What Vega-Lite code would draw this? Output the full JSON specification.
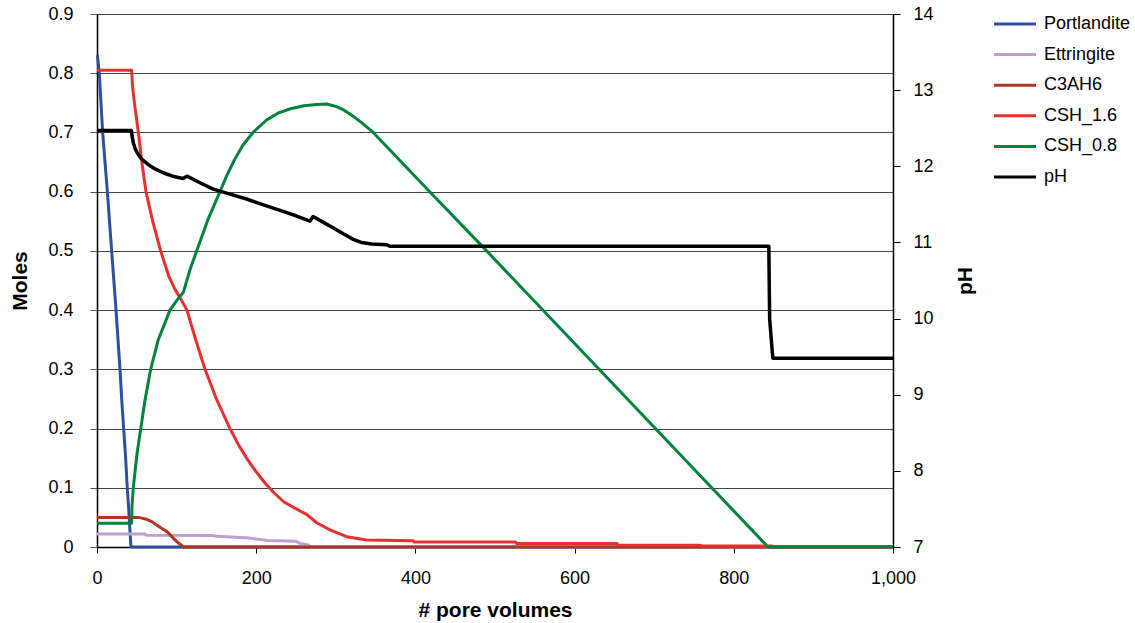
{
  "$schema": "https://vega.github.io/schema/vega-lite/v6.json",
  "width": 796,
  "height": 533,
  "autosize": {"type": "none"},
  "padding": {"left": 97, "top": 14, "right": 242, "bottom": 76},
  "config": {"font": "Liberation Sans", "view": {"stroke": null}, "background": "white"},
  "datasets": {
    "moles": [
      {"s": "Portlandite", "v": 0.5, "m": 0.83},
      {"s": "Portlandite", "v": 2.9, "m": 0.80},
      {"s": "Portlandite", "v": 7.1, "m": 0.70},
      {"s": "Portlandite", "v": 13, "m": 0.60},
      {"s": "Portlandite", "v": 18.4, "m": 0.50},
      {"s": "Portlandite", "v": 23.9, "m": 0.40},
      {"s": "Portlandite", "v": 28.9, "m": 0.30},
      {"s": "Portlandite", "v": 31, "m": 0.25},
      {"s": "Portlandite", "v": 33.5, "m": 0.20},
      {"s": "Portlandite", "v": 36, "m": 0.15},
      {"s": "Portlandite", "v": 38, "m": 0.10},
      {"s": "Portlandite", "v": 40, "m": 0.06},
      {"s": "Portlandite", "v": 41.5, "m": 0.025},
      {"s": "Portlandite", "v": 42.7, "m": 0},
      {"s": "Portlandite", "v": 1000, "m": 0},
      {"s": "Ettringite", "v": 0, "m": 0.022},
      {"s": "Ettringite", "v": 60, "m": 0.022},
      {"s": "Ettringite", "v": 62, "m": 0.020},
      {"s": "Ettringite", "v": 146, "m": 0.0195},
      {"s": "Ettringite", "v": 150, "m": 0.018},
      {"s": "Ettringite", "v": 192, "m": 0.015},
      {"s": "Ettringite", "v": 215, "m": 0.011},
      {"s": "Ettringite", "v": 250, "m": 0.0095},
      {"s": "Ettringite", "v": 255, "m": 0.006},
      {"s": "Ettringite", "v": 265, "m": 0.004},
      {"s": "Ettringite", "v": 268, "m": 0},
      {"s": "Ettringite", "v": 1000, "m": 0},
      {"s": "C3AH6", "v": 0, "m": 0.05},
      {"s": "C3AH6", "v": 52, "m": 0.05},
      {"s": "C3AH6", "v": 62, "m": 0.047},
      {"s": "C3AH6", "v": 70, "m": 0.042},
      {"s": "C3AH6", "v": 75, "m": 0.037},
      {"s": "C3AH6", "v": 82, "m": 0.031},
      {"s": "C3AH6", "v": 88, "m": 0.026},
      {"s": "C3AH6", "v": 93, "m": 0.019},
      {"s": "C3AH6", "v": 98, "m": 0.012},
      {"s": "C3AH6", "v": 104, "m": 0.005},
      {"s": "C3AH6", "v": 109, "m": 0},
      {"s": "C3AH6", "v": 1000, "m": 0},
      {"s": "CSH_1.6", "v": 0, "m": 0.805},
      {"s": "CSH_1.6", "v": 43.5, "m": 0.805},
      {"s": "CSH_1.6", "v": 44.5, "m": 0.78},
      {"s": "CSH_1.6", "v": 47, "m": 0.75},
      {"s": "CSH_1.6", "v": 52, "m": 0.70},
      {"s": "CSH_1.6", "v": 56, "m": 0.653},
      {"s": "CSH_1.6", "v": 61.5, "m": 0.60},
      {"s": "CSH_1.6", "v": 70, "m": 0.55},
      {"s": "CSH_1.6", "v": 80, "m": 0.50},
      {"s": "CSH_1.6", "v": 90, "m": 0.458},
      {"s": "CSH_1.6", "v": 98, "m": 0.435},
      {"s": "CSH_1.6", "v": 106, "m": 0.417},
      {"s": "CSH_1.6", "v": 113, "m": 0.40},
      {"s": "CSH_1.6", "v": 124, "m": 0.35},
      {"s": "CSH_1.6", "v": 135.7, "m": 0.30},
      {"s": "CSH_1.6", "v": 150, "m": 0.25},
      {"s": "CSH_1.6", "v": 167, "m": 0.20},
      {"s": "CSH_1.6", "v": 178, "m": 0.172},
      {"s": "CSH_1.6", "v": 189, "m": 0.148},
      {"s": "CSH_1.6", "v": 200, "m": 0.127},
      {"s": "CSH_1.6", "v": 211, "m": 0.108},
      {"s": "CSH_1.6", "v": 222, "m": 0.092},
      {"s": "CSH_1.6", "v": 235, "m": 0.076},
      {"s": "CSH_1.6", "v": 248, "m": 0.066},
      {"s": "CSH_1.6", "v": 263.4, "m": 0.055},
      {"s": "CSH_1.6", "v": 276, "m": 0.041},
      {"s": "CSH_1.6", "v": 292.7, "m": 0.029},
      {"s": "CSH_1.6", "v": 313.7, "m": 0.0174},
      {"s": "CSH_1.6", "v": 338.8, "m": 0.0118},
      {"s": "CSH_1.6", "v": 397, "m": 0.0107},
      {"s": "CSH_1.6", "v": 398, "m": 0.0084},
      {"s": "CSH_1.6", "v": 526, "m": 0.0084},
      {"s": "CSH_1.6", "v": 527, "m": 0.006},
      {"s": "CSH_1.6", "v": 653, "m": 0.006},
      {"s": "CSH_1.6", "v": 655, "m": 0.0034},
      {"s": "CSH_1.6", "v": 757, "m": 0.003},
      {"s": "CSH_1.6", "v": 760, "m": 0.0017},
      {"s": "CSH_1.6", "v": 848, "m": 0.0017},
      {"s": "CSH_1.6", "v": 850, "m": 0},
      {"s": "CSH_1.6", "v": 1000, "m": 0},
      {"s": "CSH_0.8", "v": 0, "m": 0.04},
      {"s": "CSH_0.8", "v": 43.5, "m": 0.04},
      {"s": "CSH_0.8", "v": 44, "m": 0.07},
      {"s": "CSH_0.8", "v": 45.6, "m": 0.10},
      {"s": "CSH_0.8", "v": 48, "m": 0.13},
      {"s": "CSH_0.8", "v": 50.5, "m": 0.16},
      {"s": "CSH_0.8", "v": 55, "m": 0.20},
      {"s": "CSH_0.8", "v": 60.3, "m": 0.248},
      {"s": "CSH_0.8", "v": 67.4, "m": 0.30},
      {"s": "CSH_0.8", "v": 77, "m": 0.35},
      {"s": "CSH_0.8", "v": 91.7, "m": 0.40},
      {"s": "CSH_0.8", "v": 100, "m": 0.416},
      {"s": "CSH_0.8", "v": 108.4, "m": 0.43},
      {"s": "CSH_0.8", "v": 116.8, "m": 0.468},
      {"s": "CSH_0.8", "v": 125.2, "m": 0.50},
      {"s": "CSH_0.8", "v": 140, "m": 0.555},
      {"s": "CSH_0.8", "v": 154.5, "m": 0.60},
      {"s": "CSH_0.8", "v": 163, "m": 0.627},
      {"s": "CSH_0.8", "v": 172, "m": 0.652},
      {"s": "CSH_0.8", "v": 183, "m": 0.678},
      {"s": "CSH_0.8", "v": 196, "m": 0.70},
      {"s": "CSH_0.8", "v": 213, "m": 0.721},
      {"s": "CSH_0.8", "v": 228, "m": 0.733},
      {"s": "CSH_0.8", "v": 243, "m": 0.740},
      {"s": "CSH_0.8", "v": 260, "m": 0.745},
      {"s": "CSH_0.8", "v": 276, "m": 0.747},
      {"s": "CSH_0.8", "v": 288.5, "m": 0.748},
      {"s": "CSH_0.8", "v": 300, "m": 0.744},
      {"s": "CSH_0.8", "v": 310, "m": 0.738},
      {"s": "CSH_0.8", "v": 320, "m": 0.729},
      {"s": "CSH_0.8", "v": 332, "m": 0.717},
      {"s": "CSH_0.8", "v": 347, "m": 0.70},
      {"s": "CSH_0.8", "v": 418, "m": 0.60},
      {"s": "CSH_0.8", "v": 489.5, "m": 0.50},
      {"s": "CSH_0.8", "v": 843, "m": 0},
      {"s": "CSH_0.8", "v": 1000, "m": 0}
    ],
    "ph": [
      {"s": "pH", "v": 0, "p": 12.47},
      {"s": "pH", "v": 43.3, "p": 12.47},
      {"s": "pH", "v": 44, "p": 12.40},
      {"s": "pH", "v": 45.6, "p": 12.31},
      {"s": "pH", "v": 48, "p": 12.23},
      {"s": "pH", "v": 51, "p": 12.17},
      {"s": "pH", "v": 55, "p": 12.11},
      {"s": "pH", "v": 60, "p": 12.06},
      {"s": "pH", "v": 66, "p": 12.01},
      {"s": "pH", "v": 73, "p": 11.965},
      {"s": "pH", "v": 83, "p": 11.915},
      {"s": "pH", "v": 95, "p": 11.87},
      {"s": "pH", "v": 108, "p": 11.84},
      {"s": "pH", "v": 113, "p": 11.87},
      {"s": "pH", "v": 130, "p": 11.78},
      {"s": "pH", "v": 146, "p": 11.70},
      {"s": "pH", "v": 165, "p": 11.64},
      {"s": "pH", "v": 188, "p": 11.57},
      {"s": "pH", "v": 210, "p": 11.49},
      {"s": "pH", "v": 230, "p": 11.42},
      {"s": "pH", "v": 250, "p": 11.35},
      {"s": "pH", "v": 267.6, "p": 11.28},
      {"s": "pH", "v": 271.5, "p": 11.34},
      {"s": "pH", "v": 285, "p": 11.26},
      {"s": "pH", "v": 297, "p": 11.19},
      {"s": "pH", "v": 310, "p": 11.11},
      {"s": "pH", "v": 322, "p": 11.04},
      {"s": "pH", "v": 332, "p": 11.0},
      {"s": "pH", "v": 345, "p": 10.98},
      {"s": "pH", "v": 364, "p": 10.97},
      {"s": "pH", "v": 368, "p": 10.95},
      {"s": "pH", "v": 844, "p": 10.95},
      {"s": "pH", "v": 845, "p": 10.0},
      {"s": "pH", "v": 849, "p": 9.48},
      {"s": "pH", "v": 1000, "p": 9.48}
    ]
  },
  "layer": [
    {
      "data": {"name": "moles"},
      "mark": {"type": "line", "strokeWidth": 3, "strokeJoin": "round"},
      "encoding": {
        "x": {
          "field": "v", "type": "quantitative",
          "scale": {"domain": [0, 1000], "nice": false},
          "axis": {
            "values": [0, 200, 400, 600, 800, 1000], "format": ",d",
            "grid": false, "domainColor": "black", "domainWidth": 1.5,
            "tickColor": "black", "tickSize": 6, "labelFontSize": 18, "labelColor": "black",
            "labelPadding": 16, "labelFlush": false,
            "title": "# pore volumes", "titleFontSize": 21, "titleFontWeight": "bold",
            "titleColor": "black", "titleY": 69, "titleBaseline": "alphabetic"
          }
        },
        "y": {
          "field": "m", "type": "quantitative",
          "scale": {"domain": [0, 0.9], "nice": false},
          "axis": {
            "values": [0, 0.1, 0.2, 0.3, 0.4, 0.5, 0.6, 0.7, 0.8, 0.9], "format": ".1~f",
            "grid": true, "gridColor": "#444", "gridWidth": 1,
            "domainColor": "black", "domainWidth": 1.5,
            "tickColor": "#555", "tickSize": 7, "labelFontSize": 18, "labelColor": "black",
            "labelPadding": 17, "labelFlush": false,
            "title": "Moles", "titleFontSize": 21, "titleFontWeight": "bold", "titleColor": "black",
            "titleX": -77, "titleY": 266.5, "titleBaseline": "middle"
          }
        },
        "color": {
          "field": "s", "type": "nominal", "sort": null,
          "scale": {
            "domain": ["Portlandite", "Ettringite", "C3AH6", "CSH_1.6", "CSH_0.8", "pH"],
            "range": ["#2C4FA0", "#BE9FD0", "#B2361F", "#E8302E", "#00843C", "#000000"]
          },
          "legend": {
            "title": null, "orient": "none", "legendX": 909, "legendY": 1,
            "symbolType": "M-4,0H4", "symbolSize": 110, "symbolStrokeWidth": 3,
            "labelFontSize": 18, "labelColor": "black", "labelOffset": 20,
            "rowPadding": 12.6, "padding": 0
          }
        }
      }
    },
    {
      "data": {"name": "ph"},
      "mark": {"type": "line", "strokeWidth": 3.5, "strokeJoin": "round"},
      "encoding": {
        "x": {"field": "v", "type": "quantitative"},
        "y": {
          "field": "p", "type": "quantitative",
          "scale": {"domain": [7, 14], "nice": false},
          "axis": {
            "orient": "right",
            "values": [7, 8, 9, 10, 11, 12, 13, 14], "format": "d",
            "grid": false, "domainColor": "black", "domainWidth": 1.5,
            "tickColor": "black", "tickSize": 7, "labelFontSize": 18, "labelColor": "black",
            "labelPadding": 13, "labelFlush": false,
            "title": "pH", "titleFontSize": 21, "titleFontWeight": "bold", "titleColor": "black",
            "titleAngle": 270, "titleX": 72, "titleY": 266.5, "titleBaseline": "middle"
          }
        },
        "color": {"field": "s", "type": "nominal", "sort": null}
      }
    }
  ],
  "resolve": {"scale": {"y": "independent"}}
}
